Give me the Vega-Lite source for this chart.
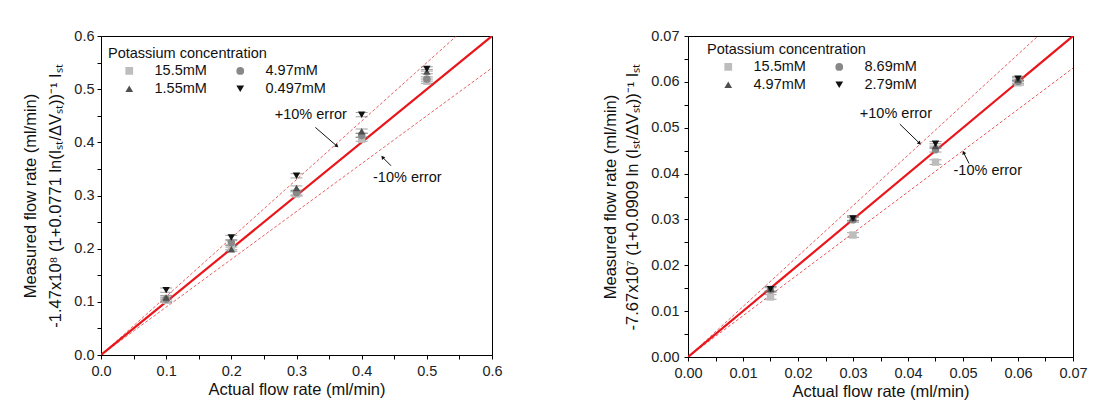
{
  "$schema": "https://vega.github.io/schema/vega-lite/v6.json",
  "background": "white",
  "padding": {"left": 22, "top": 27, "right": 5, "bottom": 5},
  "spacing": 99,
  "config": {
    "font": "Liberation Sans",
    "view": {"stroke": "black", "strokeWidth": 1},
    "axis": {"domainColor": "black", "tickColor": "black", "labelColor": "#222", "titleColor": "#111", "labelFontSize": 14.5, "titleFontSize": 16.5, "titleFontWeight": "normal", "grid": false, "labelFont": "Liberation Sans", "titleFont": "Liberation Sans", "labelFlush": false, "tickSize": 4, "tickWidth": 1},
    "legend": {"titleFontWeight": "normal", "titleFontSize": 14.5, "labelFontSize": 14.5, "titleColor": "#111", "labelColor": "#111", "labelFont": "Liberation Sans", "titleFont": "Liberation Sans"}
  },
  "datasets": {
    "leftPts": [
      {"x": 0.1, "y": 0.103, "err": 0.004, "conc": "15.5mM"},
      {"x": 0.2, "y": 0.202, "err": 0.004, "conc": "15.5mM"},
      {"x": 0.3, "y": 0.303, "err": 0.004, "conc": "15.5mM"},
      {"x": 0.4, "y": 0.406, "err": 0.004, "conc": "15.5mM"},
      {"x": 0.5, "y": 0.515, "err": 0.004, "conc": "15.5mM"},
      {"x": 0.1, "y": 0.105, "err": 0.004, "conc": "4.97mM"},
      {"x": 0.2, "y": 0.211, "err": 0.004, "conc": "4.97mM"},
      {"x": 0.3, "y": 0.305, "err": 0.004, "conc": "4.97mM"},
      {"x": 0.4, "y": 0.413, "err": 0.004, "conc": "4.97mM"},
      {"x": 0.5, "y": 0.519, "err": 0.004, "conc": "4.97mM"},
      {"x": 0.1, "y": 0.108, "err": 0.004, "conc": "1.55mM"},
      {"x": 0.2, "y": 0.199, "err": 0.004, "conc": "1.55mM"},
      {"x": 0.3, "y": 0.314, "err": 0.004, "conc": "1.55mM"},
      {"x": 0.4, "y": 0.421, "err": 0.004, "conc": "1.55mM"},
      {"x": 0.5, "y": 0.533, "err": 0.004, "conc": "1.55mM"},
      {"x": 0.1, "y": 0.122, "err": 0.004, "conc": "0.497mM"},
      {"x": 0.2, "y": 0.221, "err": 0.004, "conc": "0.497mM"},
      {"x": 0.3, "y": 0.337, "err": 0.004, "conc": "0.497mM"},
      {"x": 0.4, "y": 0.452, "err": 0.004, "conc": "0.497mM"},
      {"x": 0.5, "y": 0.538, "err": 0.004, "conc": "0.497mM"}
    ],
    "rightPts": [
      {"x": 0.015, "y": 0.0131, "err": 0.0005, "conc": "15.5mM"},
      {"x": 0.03, "y": 0.0266, "err": 0.0005, "conc": "15.5mM"},
      {"x": 0.045, "y": 0.0425, "err": 0.0005, "conc": "15.5mM"},
      {"x": 0.06, "y": 0.0598, "err": 0.0005, "conc": "15.5mM"},
      {"x": 0.015, "y": 0.0146, "err": 0.0005, "conc": "8.69mM"},
      {"x": 0.03, "y": 0.0299, "err": 0.0005, "conc": "8.69mM"},
      {"x": 0.045, "y": 0.0452, "err": 0.0005, "conc": "8.69mM"},
      {"x": 0.06, "y": 0.0601, "err": 0.0005, "conc": "8.69mM"},
      {"x": 0.015, "y": 0.0149, "err": 0.0005, "conc": "4.97mM"},
      {"x": 0.03, "y": 0.0303, "err": 0.0005, "conc": "4.97mM"},
      {"x": 0.045, "y": 0.046, "err": 0.0005, "conc": "4.97mM"},
      {"x": 0.06, "y": 0.0605, "err": 0.0005, "conc": "4.97mM"},
      {"x": 0.015, "y": 0.0148, "err": 0.0005, "conc": "2.79mM"},
      {"x": 0.03, "y": 0.0302, "err": 0.0005, "conc": "2.79mM"},
      {"x": 0.045, "y": 0.0465, "err": 0.0005, "conc": "2.79mM"},
      {"x": 0.06, "y": 0.0607, "err": 0.0005, "conc": "2.79mM"}
    ],
    "leftLines": [
      {"x": 0, "y": 0, "kind": "ideal"}, {"x": 0.6, "y": 0.6, "kind": "ideal"},
      {"x": 0, "y": 0, "kind": "plus"}, {"x": 0.6, "y": 0.66, "kind": "plus"},
      {"x": 0, "y": 0, "kind": "minus"}, {"x": 0.6, "y": 0.54, "kind": "minus"}
    ],
    "rightLines": [
      {"x": 0, "y": 0, "kind": "ideal"}, {"x": 0.07, "y": 0.07, "kind": "ideal"},
      {"x": 0, "y": 0, "kind": "plus"}, {"x": 0.07, "y": 0.077, "kind": "plus"},
      {"x": 0, "y": 0, "kind": "minus"}, {"x": 0.07, "y": 0.063, "kind": "minus"}
    ],
    "leftNotes": [
      {"x": 0.322, "y": 0.452, "label": "+10% error"},
      {"x": 0.47, "y": 0.333, "label": "-10% error"}
    ],
    "leftArrows": [
      {"x": 0.329, "y": 0.428, "x2": 0.362, "y2": 0.393, "angle": 132},
      {"x": 0.445, "y": 0.356, "x2": 0.432, "y2": 0.372, "angle": 320}
    ],
    "rightNotes": [
      {"x": 0.0378, "y": 0.0530, "label": "+10% error"},
      {"x": 0.0545, "y": 0.0405, "label": "-10% error"}
    ],
    "rightArrows": [
      {"x": 0.0385, "y": 0.0508, "x2": 0.0421, "y2": 0.0466, "angle": 137},
      {"x": 0.0511, "y": 0.0422, "x2": 0.0501, "y2": 0.0446, "angle": 335}
    ]
  },
  "resolve": {"scale": {"color": "independent", "shape": "independent"}, "legend": {"color": "independent", "shape": "independent"}},
  "hconcat": [
    {
      "width": 391,
      "height": 319,
      "encoding": {
        "x": {"field": "x", "type": "quantitative", "scale": {"domain": [0, 0.6], "nice": false},
          "axis": {"title": "Actual flow rate (ml/min)", "values": [0, 0.05, 0.1, 0.15, 0.2, 0.25, 0.3, 0.35, 0.4, 0.45, 0.5, 0.55, 0.6],
            "labelExpr": "abs(datum.value*10 - round(datum.value*10)) < 0.01 ? format(datum.value, '.1f') : ''",
            "labelPadding": 5, "titlePadding": 4}},
        "y": {"field": "y", "type": "quantitative", "scale": {"domain": [0, 0.6], "nice": false},
          "axis": {"title": ["Measured flow rate (ml/min)", "-1.47x10⁸ (1+0.0771 ln(Iₛₜ/ΔVₛₜ))⁻¹ Iₛₜ"], "titleLineHeight": 25,
            "values": [0, 0.05, 0.1, 0.15, 0.2, 0.25, 0.3, 0.35, 0.4, 0.45, 0.5, 0.55, 0.6],
            "labelExpr": "abs(datum.value*10 - round(datum.value*10)) < 0.01 ? format(datum.value, '.1f') : ''",
            "labelPadding": 3, "titlePadding": 10}}
      },
      "layer": [
        {
          "data": {"name": "leftLines"},
          "transform": [{"filter": "datum.kind != 'ideal'"}],
          "mark": {"type": "line", "color": "#e0393c", "strokeWidth": 0.8, "strokeDash": [3, 2], "clip": true},
          "encoding": {"detail": {"field": "kind"}}
        },
        {
          "data": {"name": "leftLines"},
          "transform": [{"filter": "datum.kind == 'ideal'"}],
          "mark": {"type": "line", "color": "#e8161b", "strokeWidth": 2.2, "clip": true}
        },
        {
          "data": {"name": "leftPts"},
          "transform": [{"calculate": "datum.y - datum.err", "as": "lo"}, {"calculate": "datum.y + datum.err", "as": "hi"}],
          "mark": {"type": "rule", "color": "#777", "strokeWidth": 1},
          "encoding": {"y": {"field": "lo", "type": "quantitative"}, "y2": {"field": "hi"}}
        },
        {
          "data": {"name": "leftPts"},
          "transform": [{"fold": ["lo_", "hi_"]}, {"calculate": "datum.key == 'lo_' ? datum.y - datum.err : datum.y + datum.err", "as": "cap"}],
          "mark": {"type": "tick", "orient": "horizontal", "color": "#777", "size": 12, "thickness": 1},
          "encoding": {"y": {"field": "cap", "type": "quantitative"}}
        },
        {
          "data": {"name": "leftPts"},
          "mark": {"type": "point", "filled": true, "opacity": 1, "size": 55},
          "encoding": {
            "color": {"field": "conc", "type": "nominal", "scale": {"domain": ["15.5mM", "1.55mM", "4.97mM", "0.497mM"], "range": ["#bdbdbd", "#4f4f4f", "#888888", "#111111"]},
              "legend": {"title": "Potassium concentration", "orient": "none", "legendX": 7, "legendY": 11, "columns": 2, "columnPadding": 12, "rowPadding": 3, "symbolSize": 60, "symbolOffset": 14, "labelOffset": 18, "padding": 0, "titlePadding": 2}},
            "shape": {"field": "conc", "type": "nominal", "scale": {"domain": ["15.5mM", "1.55mM", "4.97mM", "0.497mM"], "range": ["square", "triangle-up", "circle", "triangle-down"]},
              "legend": {"title": "Potassium concentration", "orient": "none", "legendX": 7, "legendY": 11, "columns": 2, "columnPadding": 12, "rowPadding": 3, "symbolSize": 60, "symbolOffset": 14, "labelOffset": 18, "padding": 0, "titlePadding": 2}}
          }
        },
        {
          "data": {"name": "leftNotes"},
          "mark": {"type": "text", "fontSize": 14.5, "color": "#111"},
          "encoding": {"text": {"field": "label"}}
        },
        {
          "data": {"name": "leftArrows"},
          "mark": {"type": "rule", "color": "#111", "strokeWidth": 1},
          "encoding": {"x2": {"field": "x2"}, "y2": {"field": "y2"}}
        },
        {
          "data": {"name": "leftArrows"},
          "mark": {"type": "point", "shape": "triangle-up", "filled": true, "color": "#111", "size": 18, "opacity": 1},
          "encoding": {"x": {"field": "x2", "type": "quantitative"}, "y": {"field": "y2", "type": "quantitative"}, "angle": {"field": "angle", "type": "quantitative", "scale": null}}
        }
      ]
    },
    {
      "width": 385,
      "height": 321,
      "encoding": {
        "x": {"field": "x", "type": "quantitative", "scale": {"domain": [0, 0.07], "nice": false},
          "axis": {"title": "Actual flow rate (ml/min)", "values": [0, 0.005, 0.01, 0.015, 0.02, 0.025, 0.03, 0.035, 0.04, 0.045, 0.05, 0.055, 0.06, 0.065, 0.07],
            "labelExpr": "abs(datum.value*100 - round(datum.value*100)) < 0.01 ? format(datum.value, '.2f') : ''",
            "labelPadding": 5, "titlePadding": 4}},
        "y": {"field": "y", "type": "quantitative", "scale": {"domain": [0, 0.07], "nice": false},
          "axis": {"title": ["Measured flow rate (ml/min)", "-7.67x10⁷ (1+0.0909 ln (Iₛₜ/ΔVₛₜ))⁻¹ Iₛₜ"], "titleLineHeight": 22,
            "values": [0, 0.005, 0.01, 0.015, 0.02, 0.025, 0.03, 0.035, 0.04, 0.045, 0.05, 0.055, 0.06, 0.065, 0.07],
            "labelExpr": "abs(datum.value*100 - round(datum.value*100)) < 0.01 ? format(datum.value, '.2f') : ''",
            "labelPadding": 5, "titlePadding": 10}}
      },
      "layer": [
        {
          "data": {"name": "rightLines"},
          "transform": [{"filter": "datum.kind != 'ideal'"}],
          "mark": {"type": "line", "color": "#e0393c", "strokeWidth": 0.8, "strokeDash": [3, 2], "clip": true},
          "encoding": {"detail": {"field": "kind"}}
        },
        {
          "data": {"name": "rightLines"},
          "transform": [{"filter": "datum.kind == 'ideal'"}],
          "mark": {"type": "line", "color": "#e8161b", "strokeWidth": 2.2, "clip": true}
        },
        {
          "data": {"name": "rightPts"},
          "transform": [{"calculate": "datum.y - datum.err", "as": "lo"}, {"calculate": "datum.y + datum.err", "as": "hi"}],
          "mark": {"type": "rule", "color": "#777", "strokeWidth": 1},
          "encoding": {"y": {"field": "lo", "type": "quantitative"}, "y2": {"field": "hi"}}
        },
        {
          "data": {"name": "rightPts"},
          "transform": [{"fold": ["lo_", "hi_"]}, {"calculate": "datum.key == 'lo_' ? datum.y - datum.err : datum.y + datum.err", "as": "cap"}],
          "mark": {"type": "tick", "orient": "horizontal", "color": "#777", "size": 12, "thickness": 1},
          "encoding": {"y": {"field": "cap", "type": "quantitative"}}
        },
        {
          "data": {"name": "rightPts"},
          "mark": {"type": "point", "filled": true, "opacity": 1, "size": 55},
          "encoding": {
            "color": {"field": "conc", "type": "nominal", "scale": {"domain": ["15.5mM", "4.97mM", "8.69mM", "2.79mM"], "range": ["#bdbdbd", "#4f4f4f", "#888888", "#111111"]},
              "legend": {"title": "Potassium concentration", "orient": "none", "legendX": 19, "legendY": 7, "columns": 2, "columnPadding": 12, "rowPadding": 3, "symbolSize": 60, "symbolOffset": 14, "labelOffset": 18, "padding": 0, "titlePadding": 2}},
            "shape": {"field": "conc", "type": "nominal", "scale": {"domain": ["15.5mM", "4.97mM", "8.69mM", "2.79mM"], "range": ["square", "triangle-up", "circle", "triangle-down"]},
              "legend": {"title": "Potassium concentration", "orient": "none", "legendX": 19, "legendY": 7, "columns": 2, "columnPadding": 12, "rowPadding": 3, "symbolSize": 60, "symbolOffset": 14, "labelOffset": 18, "padding": 0, "titlePadding": 2}}
          }
        },
        {
          "data": {"name": "rightNotes"},
          "mark": {"type": "text", "fontSize": 14.5, "color": "#111"},
          "encoding": {"text": {"field": "label"}}
        },
        {
          "data": {"name": "rightArrows"},
          "mark": {"type": "rule", "color": "#111", "strokeWidth": 1},
          "encoding": {"x2": {"field": "x2"}, "y2": {"field": "y2"}}
        },
        {
          "data": {"name": "rightArrows"},
          "mark": {"type": "point", "shape": "triangle-up", "filled": true, "color": "#111", "size": 18, "opacity": 1},
          "encoding": {"x": {"field": "x2", "type": "quantitative"}, "y": {"field": "y2", "type": "quantitative"}, "angle": {"field": "angle", "type": "quantitative", "scale": null}}
        }
      ]
    }
  ]
}
